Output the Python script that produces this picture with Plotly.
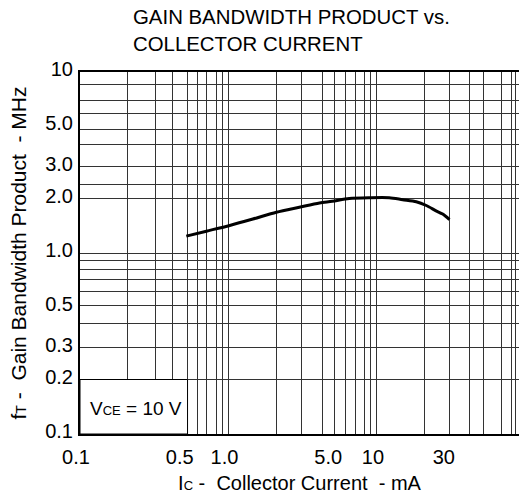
import math
import plotly.graph_objects as go

# ---- data ----
ic_ma = [0.52, 0.71, 1.02, 1.46, 2.1, 3.0, 4.1, 5.0, 6.5, 8.9, 12.1, 14.9, 18.4, 21.5, 25.0, 27.7, 30.8]
ft_mhz = [1.24, 1.32, 1.42, 1.54, 1.68, 1.79, 1.89, 1.93, 2.0, 2.02, 2.02, 1.97, 1.92, 1.83, 1.71, 1.64, 1.53]

x_tick_vals = [0.1, 0.5, 1, 5, 10, 30]
x_tick_text = ["0.1", "0.5", "1.0", "5.0", "10", "30"]
y_tick_vals = [0.1, 0.2, 0.3, 0.5, 1, 2, 3, 5, 10]
y_tick_text = ["0.1", "0.2", "0.3", "0.5", "1.0", "2.0", "3.0", "5.0", "10"]

x_grid = [0.21, 0.32, 0.42, 0.53, 0.62, 0.71, 0.83, 0.91, 1.0,
          2.1, 3.1, 4.3, 5.2, 6.1, 7.2, 8.3, 9.0, 9.9,
          21, 31, 42, 52, 69, 80, 86, 90]
y_grid = [0.2, 0.3, 0.41, 0.51, 0.61, 0.71, 0.81, 0.91, 1.0,
          2.0, 2.4, 3.0, 4.0, 4.8, 5.9, 7.0, 8.5]

box_x = [0.1, 0.53]
box_y = [0.1, 0.2]

FONT = "Liberation Sans, Arial, Helvetica, sans-serif"
NB = "\u00a0"

fig = go.Figure()
fig.add_trace(go.Scatter(
    x=ic_ma, y=ft_mhz, mode="lines",
    line=dict(color="black", width=3, shape="spline", smoothing=0.8),
    showlegend=False, hoverinfo="skip",
))

fig.update_layout(
    width=520, height=496,
    margin=dict(l=80, r=1, t=72, b=62),
    paper_bgcolor="white", plot_bgcolor="white",
    font=dict(family=FONT, size=20, color="black"),
    xaxis=dict(
        type="log", range=[-1, math.log10(90.5)], automargin=False,
        tickmode="array", tickvals=x_tick_vals, ticktext=x_tick_text,
        showgrid=False, ticks="", ticklabelstandoff=4, ticklabelshift=-4,
        showline=True, linecolor="black", linewidth=2, mirror=True,
        minor=dict(tickmode="array", tickvals=x_grid, showgrid=True,
                   gridcolor="#333", gridwidth=1, ticks=""),
        title=dict(text="I<span style='font-size:13px'>C</span>" + NB + "-" + NB + NB +
                   "Collector Current" + NB + NB + "-" + NB + "mA",
                   font=dict(size=20), standoff=9),
        zeroline=False,
    ),
    yaxis=dict(
        type="log", range=[-1, 1], automargin=False,
        tickmode="array", tickvals=y_tick_vals, ticktext=y_tick_text,
        showgrid=False, ticks="", ticklabelstandoff=1, ticklabelshift=-3,
        showline=True, linecolor="black", linewidth=2, mirror=False,
        minor=dict(tickmode="array", tickvals=y_grid, showgrid=True,
                   gridcolor="#333", gridwidth=1, ticks=""),
        title=dict(text="f<span style='font-size:14px'>T</span>" + NB + "-" + NB + NB +
                   "Gain Bandwidth Product" + NB + NB + "-" + NB + "MHz",
                   font=dict(size=21), standoff=13),
        zeroline=False,
    ),
    shapes=[dict(type="rect", xref="x", yref="y",
                 x0=box_x[0], x1=box_x[1], y0=box_y[0], y1=box_y[1],
                 fillcolor="white", line=dict(color="black", width=1),
                 layer="above")],
    annotations=[
        dict(
            xref="x", yref="y", x=math.log10(0.114), y=math.log10(0.1375),
            xanchor="left", yanchor="middle", showarrow=False,
            text="V<span style='font-size:13px'>CE</span>" + NB + "=" + NB + "10" + NB + "V",
            font=dict(family=FONT, size=19, color="black"),
        ),
        dict(
            xref="paper", yref="paper", x=(131 - 80) / 439, y=1 + 68 / 362,
            xanchor="left", yanchor="top", align="left", showarrow=False,
            text="GAIN BANDWIDTH PRODUCT vs.<br>COLLECTOR CURRENT",
            font=dict(family=FONT, size=20.4, color="black"),
        ),
    ],
)

fig.write_html("out.html", config={"displayModeBar": False},
               post_script="document.body.style.margin='0';")
